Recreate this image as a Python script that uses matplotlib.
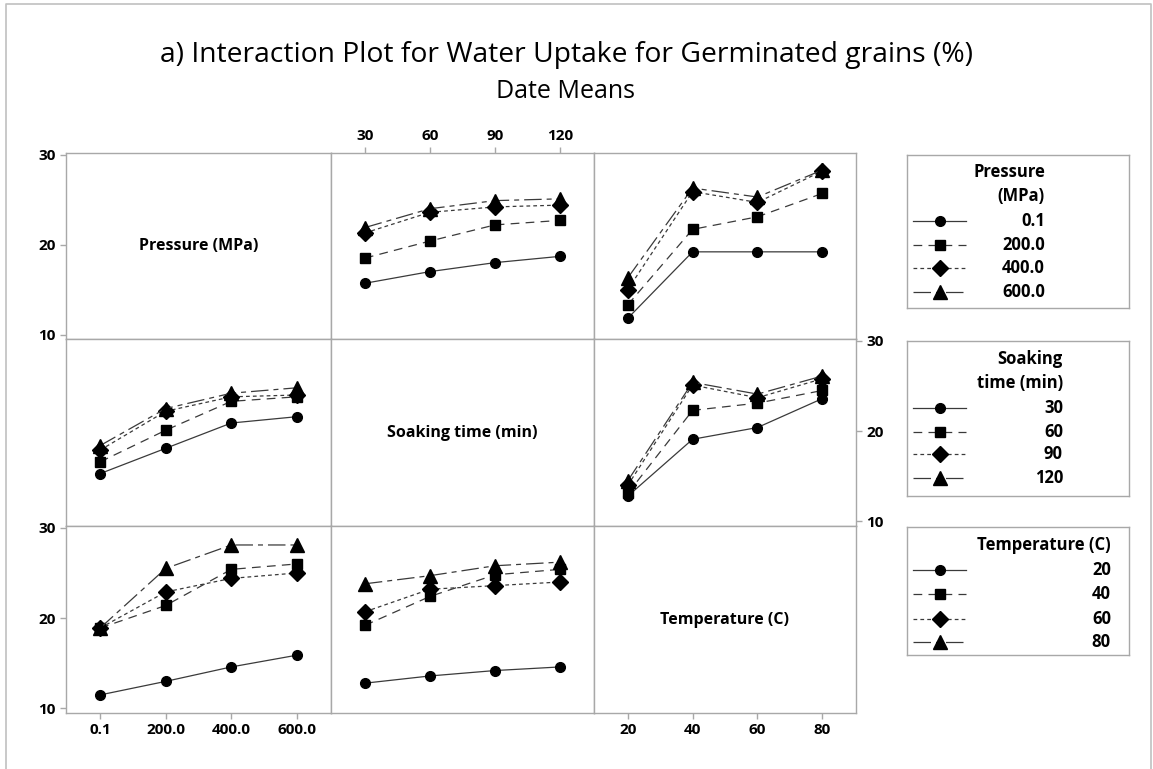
import matplotlib
matplotlib.use("Agg")
import matplotlib.pyplot as plt
from matplotlib.lines import Line2D

plt.rcParams['font.family'] = ['Open Sans', 'DejaVu Sans']

# factor levels
pressure_lvls = ["0.1", "200.0", "400.0", "600.0"]
soak_lvls = ["30", "60", "90", "120"]
temp_lvls = ["20", "40", "60", "80"]

factor_names = ["Pressure (MPa)", "Soaking time (min)", "Temperature (C)"]
legend_titles = ["Pressure\n(MPa)", "Soaking\ntime (min)", "Temperature (C)"]

# means of water uptake (%) - trace factor = row, x factor = column
# row 1: lines = pressure
press_by_soak = [[15.7, 17.0, 18.0, 18.7],
                 [18.5, 20.4, 22.2, 22.7],
                 [21.3, 23.6, 24.2, 24.4],
                 [21.9, 24.0, 24.9, 25.1]]
press_by_temp = [[11.8, 19.2, 19.2, 19.2],
                 [13.3, 21.7, 23.1, 25.7],
                 [15.0, 25.9, 24.7, 28.2],
                 [16.3, 26.3, 25.3, 28.3]]
# row 2: lines = soaking time
soak_by_press = [[15.3, 18.1, 20.9, 21.6],
                 [16.6, 20.1, 23.3, 23.8],
                 [17.9, 22.2, 23.8, 24.0],
                 [18.4, 22.5, 24.2, 24.8]]
soak_by_temp = [[12.8, 19.1, 20.4, 23.6],
                [13.1, 22.3, 23.1, 24.5],
                [14.0, 25.1, 23.7, 25.8],
                [14.5, 25.4, 24.1, 26.1]]
# row 3: lines = temperature
temp_by_press = [[11.5, 13.0, 14.6, 15.9],
                 [18.9, 21.4, 25.4, 26.0],
                 [18.9, 22.9, 24.4, 25.0],
                 [18.9, 25.5, 28.1, 28.1]]
temp_by_soak = [[12.8, 13.6, 14.2, 14.6],
                [19.2, 22.4, 24.8, 25.4],
                [20.7, 23.2, 23.6, 24.0],
                [23.8, 24.7, 25.8, 26.2]]

levels = [pressure_lvls, soak_lvls, temp_lvls]
panels = {(0, 1): press_by_soak, (0, 2): press_by_temp,
          (1, 0): soak_by_press, (1, 2): soak_by_temp,
          (2, 0): temp_by_press, (2, 1): temp_by_soak}

markers = ['o', 's', 'D', '^']
msizes = [7, 7, 8.5, 10]
dashes = ['-', (0, (7, 5)), (0, (3, 2.5)), (0, (14, 4, 4, 4))]
lcol = '#3a3a3a'
gray = '#a8a8a8'

W, H = 1153, 769
fig = plt.figure(figsize=(W / 100, H / 100), dpi=100)

def px_axes(x0, y0, x1, y1):
    return fig.add_axes([x0 / W, 1 - y1 / H, (x1 - x0) / W, (y1 - y0) / H])

# outer frame
frame = Line2D([6 / W, 6 / W, 1151 / W, 1151 / W], [0, 1 - 4 / H, 1 - 4 / H, 0],
               transform=fig.transFigure, color='#c0c0c0', lw=1.2)
fig.add_artist(frame)

fig.text(567 / W, 1 - 55 / H, "a) Interaction Plot for Water Uptake for Germinated grains (%)",
         ha='center', va='center', fontsize=20.3)
fig.text(565 / W, 1 - 92 / H, "Date Means", ha='center', va='center', fontsize=18)

cols = [66, 331, 594, 856]
rows = [153, 339, 526, 713]
tick_kw = dict(color=gray, length=4, width=1, labelsize=11)

for r in range(3):
    for c in range(3):
        ax = px_axes(cols[c], rows[r], cols[c + 1], rows[r + 1])
        ax.set_xlim(0.48, 4.52)
        ax.set_ylim(9.5, 30.2)
        for s in ax.spines.values():
            s.set_color(gray)
            s.set_linewidth(1)
        ax.set_xticks([])
        ax.set_yticks([])
        x = list(range(1, len(levels[c]) + 1))
        if r == c:
            ax.text(0.5, 0.5, factor_names[r], transform=ax.transAxes, ha='center',
                    va='center', fontsize=11.5, fontweight='bold')
        else:
            for k, yv in enumerate(panels[(r, c)]):
                ax.plot(x, yv, color=lcol, lw=0.9, linestyle=dashes[k],
                        marker=markers[k], ms=msizes[k], mfc='black', mec='black')
        # axis ticks as in the minitab matrix layout
        if c == 0 and r in (0, 2):
            ax.set_yticks([10, 20, 30])
            ax.tick_params(axis='y', left=True, **tick_kw)
        if c == 2 and r == 1:
            ax.yaxis.tick_right()
            ax.set_yticks([10, 20, 30])
            ax.tick_params(axis='y', right=True, **tick_kw)
        if r == 0 and c == 1:
            ax.xaxis.tick_top()
            ax.set_xticks(x)
            ax.set_xticklabels(levels[c])
            ax.tick_params(axis='x', top=True, **tick_kw)
        if r == 2 and c in (0, 2):
            ax.set_xticks(x)
            ax.set_xticklabels(levels[c])
            ax.tick_params(axis='x', bottom=True, **tick_kw)
        for lab in ax.get_xticklabels() + ax.get_yticklabels():
            lab.set_fontweight('bold')

# legend boxes
boxes = [(907, 155, 1129, 308), (907, 341, 1129, 496), (907, 527, 1129, 655)]
title_y = [(172, 196), (359, 383), (545,)]
entry_y = [[221, 245, 268, 292], [408, 432, 454, 478], [570, 594, 619, 642]]
label_x = [1045, 1063, 1111]

for i, (x0, y0, x1, y1) in enumerate(boxes):
    lax = px_axes(x0, y0, x1, y1)
    lax.set_xlim(x0, x1)
    lax.set_ylim(y1, y0)
    lax.set_xticks([])
    lax.set_yticks([])
    for s in lax.spines.values():
        s.set_color(gray)
        s.set_linewidth(1)
    for line, ty in zip(legend_titles[i].split("\n"), title_y[i]):
        lax.text(label_x[i], ty, line, ha='right', va='center', fontsize=12,
                 fontweight='bold')
    for k, lv in enumerate(levels[i]):
        ey = entry_y[i][k]
        lax.plot([913, 966], [ey, ey], color=lcol, lw=0.9, linestyle=dashes[k])
        lax.plot([940], [ey], marker=markers[k], ms=msizes[k], color='black', linestyle='none')
        lax.text(label_x[i], ey, lv, ha='right', va='center', fontsize=12,
                 fontweight='bold')

fig.savefig("out.png", dpi=100)
